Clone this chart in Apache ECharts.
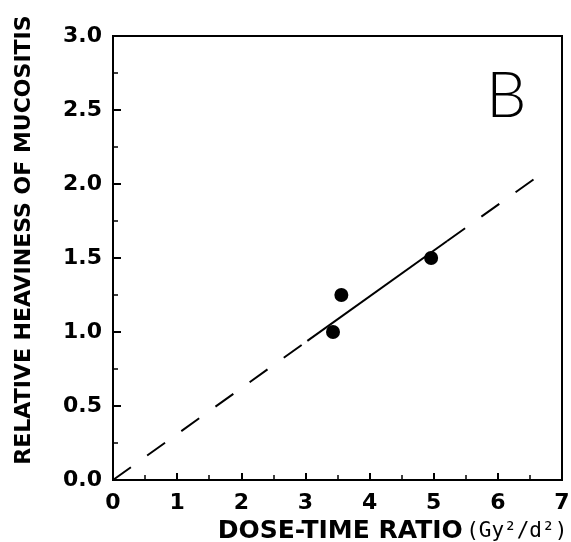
<!DOCTYPE html>
<html>
<head>
<meta charset="utf-8">
<script src="https://cdn.jsdelivr.net/npm/echarts@6/dist/echarts.min.js"></script>
<style>html,body{margin:0;padding:0;background:#fff}#c{width:571px;height:542px}</style>
</head>
<body>
<div id="c"></div>
<script>
// Observed data points
const doseTime = [3.43, 3.56, 4.96];
const heaviness = [1.0, 1.25, 1.5];
// Fitted line (solid over data range)
const fitSolidX = [3.03, 5.21];
const fitSolidY = [0.94, 1.615];
// Dashed extrapolations
const dashLowX = [0, 3.03];
const dashLowY = [0, 0.94];
const dashHighX = [5.21, 6.65];
const dashHighY = [1.615, 2.06];
// Axis ticks
const xTicks = [0, 1, 2, 3, 4, 5, 6, 7];
const yTicks = [0.0, 0.5, 1.0, 1.5, 2.0, 2.5, 3.0];
const panelLabel = 'B';

const zip = (xs, ys) => xs.map((x, i) => [x, ys[i]]);
const boldFont = 'DejaVu Sans';

const chart = echarts.init(document.getElementById('c'), null, {renderer: 'canvas'});
chart.setOption({
  animation: false,
  backgroundColor: '#fff',
  grid: {left: 113, right: 9, top: 36, bottom: 62, containLabel: false, outerBoundsMode: 'none',
         show: true, borderColor: '#000', borderWidth: 2},
  xAxis: {
    type: 'value', min: xTicks[0], max: xTicks[xTicks.length - 1], interval: 1,
    axisLine: {lineStyle: {color: '#000', width: 2}},
    axisTick: {inside: true, length: 7, lineStyle: {color: '#000', width: 2}},
    minorTick: {show: true, splitNumber: 2, length: 5, lineStyle: {color: '#000', width: 1.5}},
    splitLine: {show: false},
    axisLabel: {color: '#000', fontFamily: boldFont, fontWeight: 'bold', fontSize: 22, margin: 12},
    name: '{a|DOSE-TIME RATIO} {b|(Gy²/d²)}',
    nameLocation: 'middle', nameGap: 39,
    nameTextStyle: {
      padding: [0, 0, 0, 110],
      rich: {
        a: {fontFamily: boldFont, fontWeight: 'bold', fontSize: 25, color: '#000'},
        b: {fontFamily: 'DejaVu Sans Mono', fontWeight: 'normal', fontSize: 21, color: '#000'}
      }
    }
  },
  yAxis: {
    type: 'value', min: yTicks[0], max: yTicks[yTicks.length - 1], interval: 0.5,
    axisLine: {lineStyle: {color: '#000', width: 2}},
    axisTick: {inside: true, length: 8, lineStyle: {color: '#000', width: 2}},
    minorTick: {show: true, splitNumber: 2, length: 5, lineStyle: {color: '#000', width: 1.5}},
    splitLine: {show: false},
    axisLabel: {color: '#000', fontFamily: boldFont, fontWeight: 'bold', fontSize: 22, margin: 11,
      formatter: v => v.toFixed(1)},
    name: 'RELATIVE HEAVINESS OF MUCOSITIS',
    nameLocation: 'middle', nameRotate: 90, nameGap: 78,
    nameTextStyle: {fontFamily: boldFont, fontWeight: 'bold', fontSize: 22, color: '#000', padding: [0, 0, 0, 36]}
  },
  series: [
    {type: 'line', data: zip(dashLowX, dashLowY), symbol: 'none', silent: true,
     lineStyle: {color: '#000', width: 2, type: [22, 20]}},
    {type: 'line', data: zip(dashHighX, dashHighY), symbol: 'none', silent: true,
     lineStyle: {color: '#000', width: 2, type: [22, 20]}},
    {type: 'line', data: zip(fitSolidX, fitSolidY), symbol: 'none', silent: true,
     lineStyle: {color: '#000', width: 2, type: 'solid'}},
    {type: 'scatter', data: zip(doseTime, heaviness), symbol: 'circle', symbolSize: 14,
     itemStyle: {color: '#000', opacity: 1}}
  ],
  graphic: [
    {type: 'text', left: 486, top: 64,
     style: {text: panelLabel, fontFamily: 'Lato', fontWeight: 300, fontSize: 64, fill: '#000'}}
  ]
});
</script>
</body>
</html>
